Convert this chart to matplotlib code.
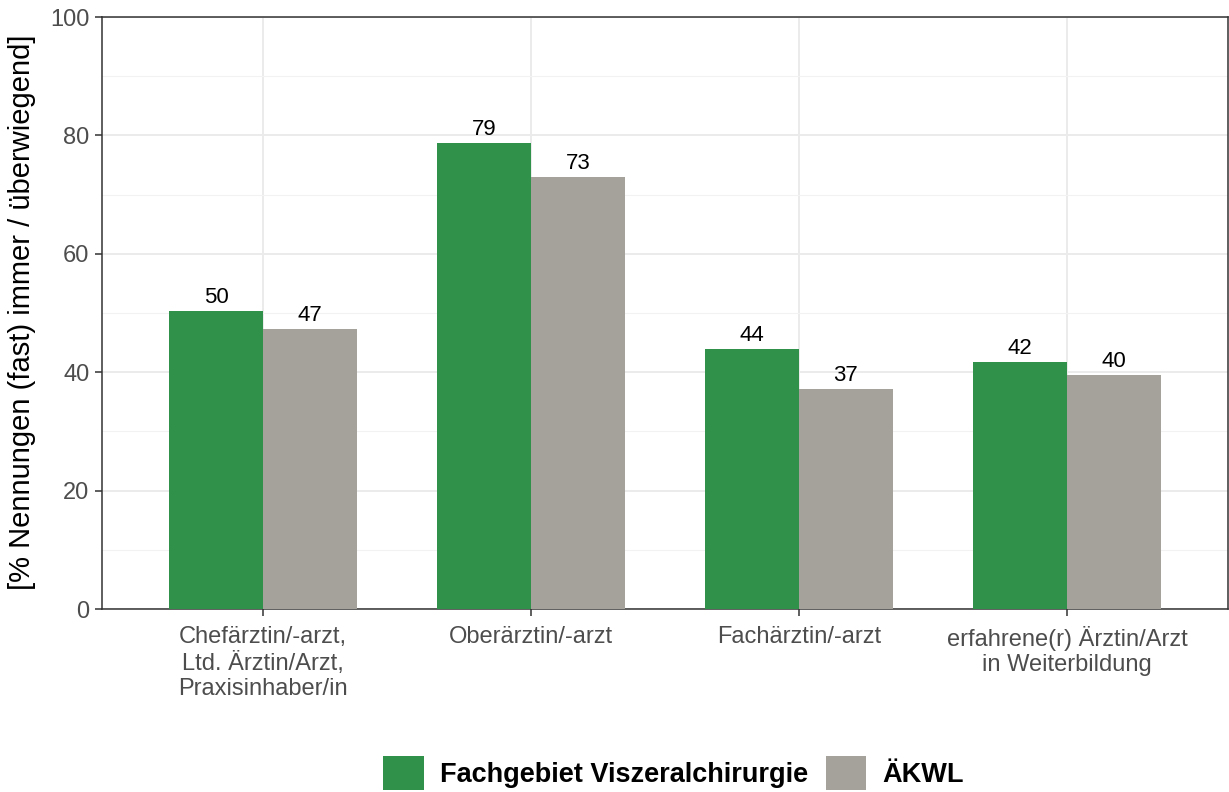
import matplotlib.pyplot as plt
import numpy as np
from matplotlib.patches import Patch

plt.rcParams['font.family'] = ['Liberation Sans', 'DejaVu Sans']

categories = ["Chefärztin/-arzt,\nLtd. Ärztin/Arzt,\nPraxisinhaber/in",
              "Oberärztin/-arzt",
              "Fachärztin/-arzt",
              "erfahrene(r) Ärztin/Arzt\nin Weiterbildung"]
viszeral = [50.3, 78.7, 44.0, 41.8]
aekwl = [47.3, 73.0, 37.2, 39.5]
seriesNames = ["Fachgebiet Viszeralchirurgie", "ÄKWL"]
seriesColors = ["#30924A", "#A5A29B"]

fig = plt.figure(figsize=(12.29, 7.92), dpi=100)
ax = fig.add_axes([102 / 1229, (792 - 609) / 792, 1126 / 1229, 592 / 792])

x = np.arange(1, len(categories) + 1)
barWidth = 0.35
for offset, values, color in [(-barWidth / 2, viszeral, seriesColors[0]),
                              (barWidth / 2, aekwl, seriesColors[1])]:
    bars = ax.bar(x + offset, values, width=barWidth, color=color, zorder=3)
    for bar, val in zip(bars, values):
        ax.annotate(f"{val:.0f}", (bar.get_x() + bar.get_width() / 2, val),
                    xytext=(0, 2), textcoords="offset points",
                    ha="center", va="bottom", fontsize=16, color="black", zorder=4)

ax.set_xlim(0.4, 4.6)
ax.set_ylim(0, 100)
ax.set_yticks(np.arange(0, 101, 20))
ax.set_yticks(np.arange(10, 100, 20), minor=True)
ax.set_xticks(x)
ax.set_xticklabels(categories, fontsize=17, color="#4D4D4D", linespacing=1.22)
ax.tick_params(axis="y", which="major", labelsize=17, labelcolor="#4D4D4D",
               color="#333333", length=5, width=1.1, pad=4)
ax.tick_params(axis="y", which="minor", length=0)
ax.tick_params(axis="x", color="#333333", length=5, width=1.1, pad=7)

ax.grid(True, which="major", color="#EBEBEB", linewidth=1.4, zorder=0)
ax.grid(True, which="minor", axis="y", color="#F2F2F2", linewidth=0.8, zorder=0)
ax.set_axisbelow(True)

for side in ["left", "bottom", "top", "right"]:
    ax.spines[side].set_color("#333333")
    ax.spines[side].set_linewidth(1.1)

ax.set_ylabel("[% Nennungen (fast) immer / überwiegend]", fontsize=21,
              color="black")
ax.yaxis.set_label_coords(36 / 1229, 1 - 312 / 792, transform=fig.transFigure)

handles = [Patch(facecolor=c, edgecolor="none") for c in seriesColors]
fig.legend(handles, seriesNames, loc="center", bbox_to_anchor=(0.548, 1 - 773 / 792),
           ncol=2, frameon=False, prop={"size": 19.5, "weight": "bold"},
           handlelength=1.5, handleheight=1.5, handletextpad=0.6, columnspacing=0.65)

fig.savefig("out.png", dpi=100)
